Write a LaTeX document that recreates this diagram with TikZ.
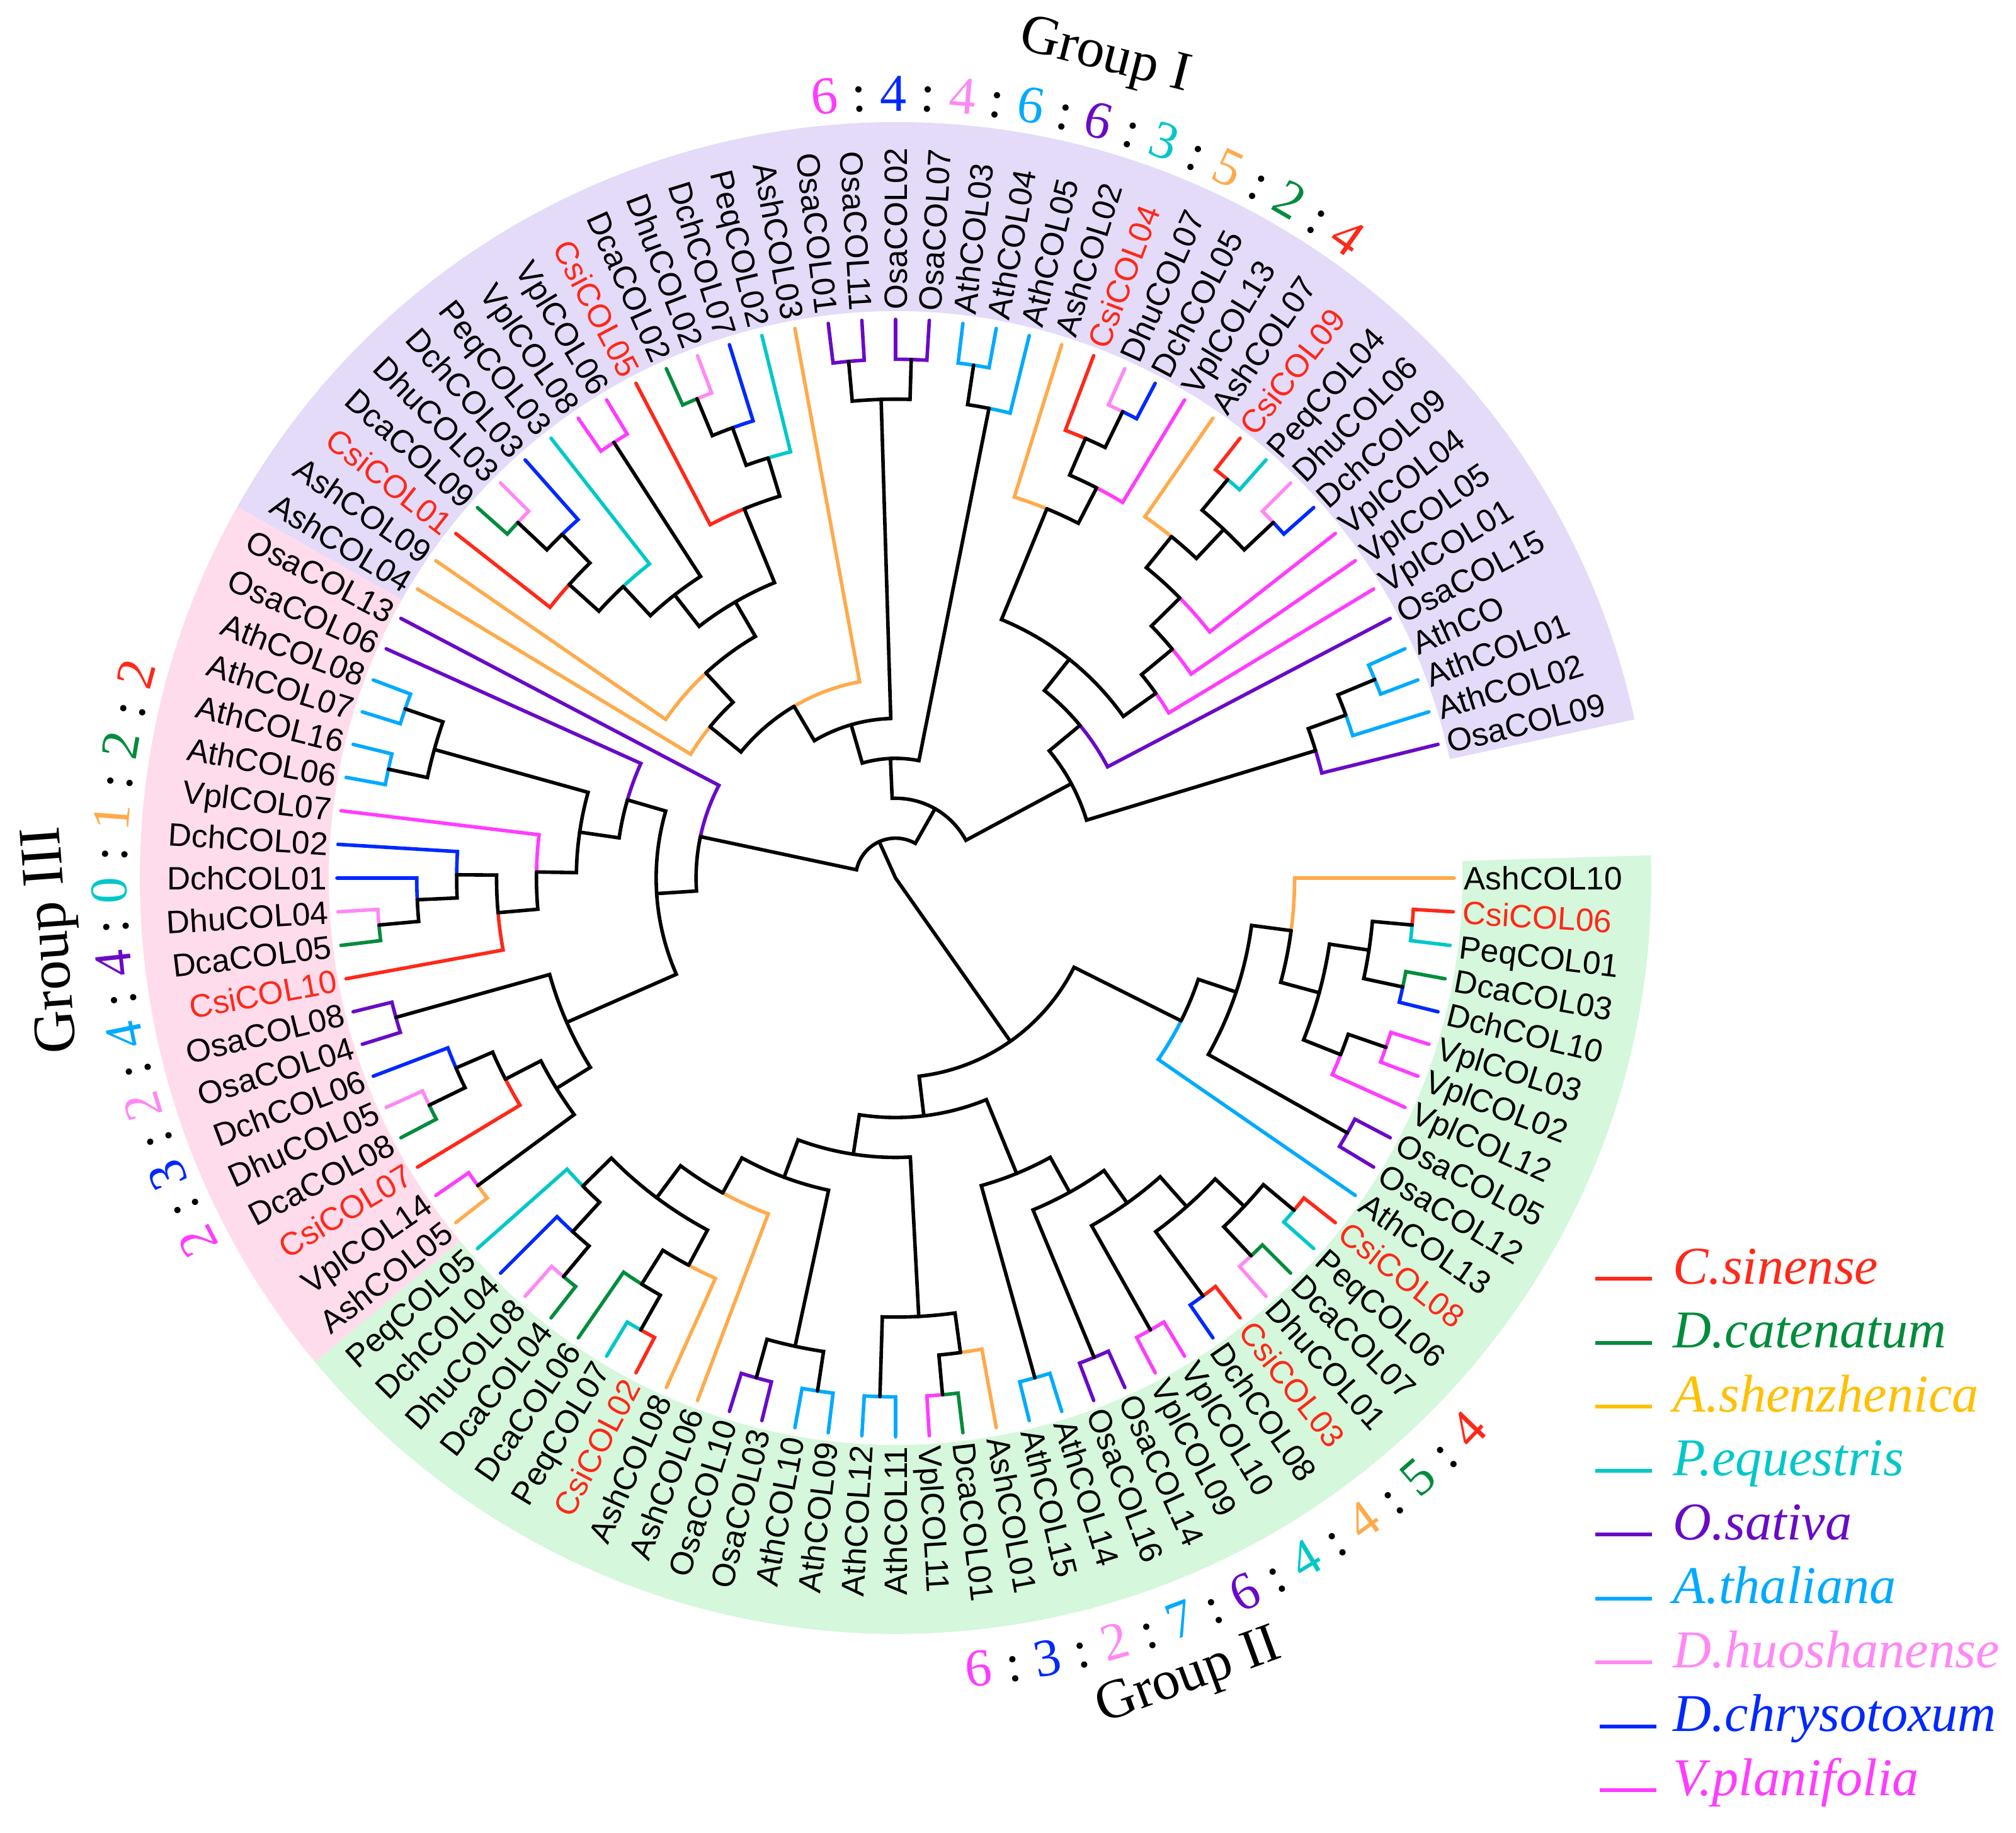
\documentclass[tikz,border=0pt]{standalone}
\usepackage{fontspec}
\setmainfont{Liberation Serif}
\newfontfamily\lsans{Liberation Sans}
\definecolor{csi}{HTML}{FF2819}
\definecolor{dca}{HTML}{008C3C}
\definecolor{ash}{HTML}{FFAA4B}
\definecolor{ashleg}{HTML}{FFC000}
\definecolor{peq}{HTML}{00C8C8}
\definecolor{osa}{HTML}{690AC8}
\definecolor{ath}{HTML}{00AAFF}
\definecolor{dhu}{HTML}{FF88F5}
\definecolor{dch}{HTML}{0028FF}
\definecolor{vpl}{HTML}{FF3CFF}
\definecolor{bandI}{HTML}{E3DBF8}
\definecolor{bandII}{HTML}{D5F7DC}
\definecolor{bandIII}{HTML}{FFDCEB}
\tikzset{
  br/.style={line width=0.056cm, line cap=round, line join=miter},
  lbl/.style={font=\lsans\fontsize{14.6pt}{16pt}\selectfont, inner sep=0pt, text height=10.45pt, text depth=0pt},
  cnt/.style={font=\fontsize{24pt}{28pt}\selectfont, inner sep=0pt},
  grp/.style={font=\fontsize{25pt}{30pt}\selectfont, inner sep=0pt},
  leg/.style={font=\itshape\fontsize{24pt}{28pt}\selectfont, inner sep=0pt, anchor=mid west},
  legline/.style={line width=0.06cm}
}
\def\leafr{8.87}
\def\lvl{0.63357}
\def\dang{3.461538}
\newcommand\lf[3]{%
  \pgfmathsetmacro\la{-#1*\dang}%
  \expandafter\xdef\csname ta@#1\endcsname{\la}%
  \expandafter\xdef\csname tr@#1\endcsname{\leafr}%
  \expandafter\xdef\csname tc@#1\endcsname{#3}%
  \def\lfcol{black}\def\tmpsp{#3}\def\tmpcsi{csi}\ifx\tmpsp\tmpcsi\def\lfcol{csi}\fi
  \ifnum#1<26 \node[lbl,text=\lfcol,anchor=west,rotate=\la] (lab#1) at (\la:9.02) {#2};%
  \else\ifnum#1>77 \node[lbl,text=\lfcol,anchor=west,rotate=\la] (lab#1) at (\la:9.02) {#2};%
  \else\pgfmathsetmacro\lb{\la+180}\node[lbl,text=\lfcol,anchor=east,rotate=\lb] (lab#1) at (\la:9.02) {#2};%
  \fi\fi}
\newcommand\edg[2]{%
  \edef\xca{\csname ta@#1\endcsname}\edef\xcr{\csname tr@#1\endcsname}\edef\xcc{\csname tc@#1\endcsname}%
  \edef\xpa{\csname ta@#2\endcsname}\edef\xpr{\csname tr@#2\endcsname}%
  \draw[br,draw=\xcc] (\xca:\xcr cm) -- (\xca:\xpr cm) arc[start angle=\xca, end angle=\xpa, radius=\xpr cm];}
\newcommand\nd[4]{%
  \pgfmathsetmacro\na{(\csname ta@#3\endcsname+\csname ta@#4\endcsname)/2}%
  \pgfmathsetmacro\nr{#2*\lvl}%
  \expandafter\xdef\csname ta@#1\endcsname{\na}%
  \expandafter\xdef\csname tr@#1\endcsname{\nr}%
  \expandafter\xdef\csname tc@#1\endcsname{black}%
  \edg{#3}{#1}\edg{#4}{#1}}
\newcommand\band[3]{%
  \fill[#1] (#2:9.0) arc[start angle=#2, end angle=#3, radius=9.0cm] -- (#3:12.0) arc[start angle=#3, end angle=#2, radius=12.0cm] -- cycle;}
\begin{document}
\begin{tikzpicture}
\useasboundingbox (-14.22,-15.16) rectangle (17.79,13.94);
\band{bandI}{12.115}{150.577}
\band{bandIII}{150.577}{219.808}
\band{bandII}{219.808}{361.731}
% leaves
\lf{0}{AshCOL10}{ash}\lf{1}{CsiCOL06}{csi}\lf{2}{PeqCOL01}{peq}\lf{3}{DcaCOL03}{dca}
\lf{4}{DchCOL10}{dch}\lf{5}{VplCOL03}{vpl}\lf{6}{VplCOL02}{vpl}\lf{7}{VplCOL12}{vpl}
\lf{8}{OsaCOL05}{osa}\lf{9}{OsaCOL12}{osa}\lf{10}{AthCOL13}{ath}\lf{11}{CsiCOL08}{csi}
\lf{12}{PeqCOL06}{peq}\lf{13}{DcaCOL07}{dca}\lf{14}{DhuCOL01}{dhu}\lf{15}{CsiCOL03}{csi}
\lf{16}{DchCOL08}{dch}\lf{17}{VplCOL10}{vpl}\lf{18}{VplCOL09}{vpl}\lf{19}{OsaCOL14}{osa}
\lf{20}{OsaCOL16}{osa}\lf{21}{AthCOL14}{ath}\lf{22}{AthCOL15}{ath}\lf{23}{AshCOL01}{ash}
\lf{24}{DcaCOL01}{dca}\lf{25}{VplCOL11}{vpl}\lf{26}{AthCOL11}{ath}\lf{27}{AthCOL12}{ath}
\lf{28}{AthCOL09}{ath}\lf{29}{AthCOL10}{ath}\lf{30}{OsaCOL03}{osa}\lf{31}{OsaCOL10}{osa}
\lf{32}{AshCOL06}{ash}\lf{33}{AshCOL08}{ash}\lf{34}{CsiCOL02}{csi}\lf{35}{PeqCOL07}{peq}
\lf{36}{DcaCOL06}{dca}\lf{37}{DcaCOL04}{dca}\lf{38}{DhuCOL08}{dhu}\lf{39}{DchCOL04}{dch}
\lf{40}{PeqCOL05}{peq}
\lf{41}{AshCOL05}{ash}\lf{42}{VplCOL14}{vpl}\lf{43}{CsiCOL07}{csi}\lf{44}{DcaCOL08}{dca}
\lf{45}{DhuCOL05}{dhu}\lf{46}{DchCOL06}{dch}\lf{47}{OsaCOL04}{osa}\lf{48}{OsaCOL08}{osa}
\lf{49}{CsiCOL10}{csi}\lf{50}{DcaCOL05}{dca}\lf{51}{DhuCOL04}{dhu}\lf{52}{DchCOL01}{dch}
\lf{53}{DchCOL02}{dch}\lf{54}{VplCOL07}{vpl}\lf{55}{AthCOL06}{ath}\lf{56}{AthCOL16}{ath}
\lf{57}{AthCOL07}{ath}\lf{58}{AthCOL08}{ath}\lf{59}{OsaCOL06}{osa}\lf{60}{OsaCOL13}{osa}
\lf{61}{AshCOL04}{ash}\lf{62}{AshCOL09}{ash}\lf{63}{CsiCOL01}{csi}\lf{64}{DcaCOL09}{dca}
\lf{65}{DhuCOL03}{dhu}\lf{66}{DchCOL03}{dch}\lf{67}{PeqCOL03}{peq}\lf{68}{VplCOL08}{vpl}
\lf{69}{VplCOL06}{vpl}\lf{70}{CsiCOL05}{csi}\lf{71}{DcaCOL02}{dca}\lf{72}{DhuCOL02}{dhu}
\lf{73}{DchCOL07}{dch}\lf{74}{PeqCOL02}{peq}\lf{75}{AshCOL03}{ash}\lf{76}{OsaCOL01}{osa}
\lf{77}{OsaCOL11}{osa}\lf{78}{OsaCOL02}{osa}\lf{79}{OsaCOL07}{osa}\lf{80}{AthCOL03}{ath}
\lf{81}{AthCOL04}{ath}\lf{82}{AthCOL05}{ath}\lf{83}{AshCOL02}{ash}\lf{84}{CsiCOL04}{csi}
\lf{85}{DhuCOL07}{dhu}\lf{86}{DchCOL05}{dch}\lf{87}{VplCOL13}{vpl}\lf{88}{AshCOL07}{ash}
\lf{89}{CsiCOL09}{csi}\lf{90}{PeqCOL04}{peq}\lf{91}{DhuCOL06}{dhu}\lf{92}{DchCOL09}{dch}
\lf{93}{VplCOL04}{vpl}\lf{94}{VplCOL05}{vpl}\lf{95}{VplCOL01}{vpl}\lf{96}{OsaCOL15}{osa}
\lf{97}{AthCO}{ath}\lf{98}{AthCOL01}{ath}\lf{99}{AthCOL02}{ath}\lf{100}{OsaCOL09}{osa}
% group II
\nd{X3}{13}{1}{2}\nd{X4}{13}{3}{4}\nd{X1}{12}{X3}{X4}
\nd{X5}{13}{5}{6}\nd{X2}{12}{X5}{7}\nd{X}{11}{X1}{X2}
\nd{T1}{10}{0}{X}\nd{T4}{13}{8}{9}\nd{T2}{9}{T1}{T4}\nd{T3}{8}{T2}{10}
\nd{Y12}{13}{11}{12}\nd{Y11}{13}{13}{14}\nd{Y10}{12}{Y12}{Y11}
\nd{Y9}{13}{15}{16}\nd{Y8}{11}{Y10}{Y9}\nd{Y7}{13}{17}{18}\nd{Y6}{10}{Y8}{Y7}
\nd{Y5}{13}{19}{20}\nd{Y4}{9}{Y6}{Y5}\nd{Y3}{13}{21}{22}\nd{Y2}{8}{Y4}{Y3}
\nd{Y17}{13}{24}{25}\nd{Y16}{12}{23}{Y17}\nd{Y15}{13}{26}{27}\nd{Y14}{11}{Y16}{Y15}
\nd{Y21}{13}{28}{29}\nd{Y20}{13}{30}{31}\nd{Y19}{12}{Y21}{Y20}
\nd{Y26}{13}{34}{35}\nd{Y25}{12}{Y26}{36}\nd{Y24}{11}{33}{Y25}
\nd{Y28}{13}{37}{38}\nd{Y27}{12}{Y28}{39}\nd{Y23}{11}{Y27}{40}
\nd{Y22}{10}{Y24}{Y23}\nd{Y18}{9}{32}{Y22}\nd{Y13}{8}{Y19}{Y18}
\nd{Y1}{7}{Y14}{Y13}\nd{Y}{6}{Y2}{Y1}\nd{GII}{5}{T3}{Y}
% group III
\nd{G1}{13}{57}{58}\nd{G3}{13}{55}{56}\nd{G2}{12}{G3}{G1}
\nd{G9}{13}{50}{51}\nd{G8}{12}{G9}{52}\nd{G7}{11}{G8}{53}\nd{G6}{10}{49}{G7}
\nd{G5}{9}{G6}{54}\nd{G4}{8}{G5}{G2}\nd{G10}{7}{G4}{59}
\nd{G13}{13}{47}{48}\nd{G15}{13}{44}{45}\nd{G16}{12}{G15}{46}\nd{G17}{11}{43}{G16}
\nd{G18}{13}{41}{42}\nd{G14}{10}{G18}{G17}\nd{G12}{9}{G14}{G13}
\nd{G11}{6}{G12}{G10}\nd{B}{5}{G11}{60}
% group I
\nd{N1}{13}{64}{65}\nd{N2}{12}{N1}{66}\nd{N3}{11}{63}{N2}\nd{N4}{10}{N3}{67}
\nd{V1}{13}{68}{69}\nd{N5}{9}{N4}{V1}
\nd{M1}{13}{71}{72}\nd{M2}{12}{M1}{73}\nd{M3}{11}{M2}{74}\nd{M4}{10}{70}{M3}
\nd{M5}{8}{N5}{M4}\nd{L1}{7}{62}{M5}\nd{X0}{6}{61}{L1}\nd{H}{5}{X0}{75}
\nd{P1}{13}{76}{77}\nd{P2}{13}{78}{79}\nd{P3}{12}{P1}{P2}\nd{E}{4}{H}{P3}
\nd{Q1}{13}{80}{81}\nd{Q2}{12}{Q1}{82}\nd{D}{3}{E}{Q2}
\nd{K1}{13}{85}{86}\nd{K2}{12}{84}{K1}\nd{K3}{11}{K2}{87}\nd{K4}{10}{83}{K3}
\nd{J1}{13}{89}{90}\nd{J2}{13}{91}{92}\nd{J3}{12}{J1}{J2}\nd{J4}{11}{88}{J3}
\nd{J5}{10}{J4}{93}\nd{J6}{9}{J5}{94}\nd{J7}{8}{J6}{95}\nd{J8}{7}{K4}{J7}\nd{J9}{6}{J8}{96}
\nd{I1}{13}{97}{98}\nd{I2}{12}{I1}{99}\nd{I3}{11}{I2}{100}\nd{F}{5}{J9}{I3}
\nd{C}{2}{D}{F}\nd{A}{1}{B}{C}
% root
\edef\rAa{\csname ta@A\endcsname}\edef\rAr{\csname tr@A\endcsname}
\edef\rGa{\csname ta@GII\endcsname}\edef\rGr{\csname tr@GII\endcsname}
\coordinate (root) at (0,0);
\draw[br] (\rAa:\rAr cm) -- (root) -- (\rGa:\rGr cm);
% group counts
\foreach \ch/\co [count=\i from 0] in {6/vpl,:/black,4/dch,:/black,4/dhu,:/black,6/ath,:/black,6/osa,:/black,3/peq,:/black,5/ash,:/black,2/dca,:/black,4/csi}{%
  \pgfmathsetmacro\ang{95.2-2.525*\i}\pgfmathsetmacro\rot{\ang-90}%
  \node[cnt,text=\co,rotate=\rot,anchor=base] (gI\i) at (\ang:12.18) {\ch};}
\foreach \ch/\co [count=\i from 0] in {6/vpl,:/black,3/dch,:/black,2/dhu,:/black,7/ath,:/black,6/osa,:/black,4/peq,:/black,4/ash,:/black,5/dca,:/black,4/csi}{%
  \pgfmathsetmacro\ang{-84.0+2.506*\i}\pgfmathsetmacro\rot{\ang+90}%
  \node[cnt,text=\co,rotate=\rot,anchor=base] (gII\i) at (\ang:12.89) {\ch};}
\foreach \ch/\co [count=\i from 0] in {2/vpl,:/black,3/dch,:/black,2/dhu,:/black,4/ath,:/black,4/osa,:/black,0/peq,:/black,1/ash,:/black,2/dca,:/black,2/csi}{%
  \pgfmathsetmacro\ang{207.5-2.66*\i}\pgfmathsetmacro\rot{\ang-90}%
  \node[cnt,text=\co,rotate=\rot,anchor=base] (gIII\i) at (\ang:12.21) {\ch};}
% group titles
\node[grp,rotate=-14.3] (tI) at (75.7:13.44) {Group I};
\node[grp,rotate=20.15] (tII) at (-69.85:13.53) {Group II};
\node[grp,rotate=94.2,font=\fontsize{27pt}{32pt}\selectfont] (tIII) at (184.2:13.40) {Group III};
% legend
\foreach \nm/\co/\xs [count=\i from 0] in {C.sinense/csi/0,D.catenatum/dca/0,A.shenzhenica/ashleg/0,P.equestris/peq/0,O.sativa/osa/0,A.thaliana/ath/0,D.huoshanense/dhu/0,D.chrysotoxum/dch/0.07,V.planifolia/vpl/0.07}{%
  \pgfmathsetmacro\yy{-6.36-1.015*\i}%
  \coordinate (la\i) at (11.11+\xs,\yy);
  \coordinate (lb\i) at (12.01+\xs,\yy);
  \draw[legline,draw=\co] (la\i) -- (lb\i);
  \node[leg,text=\co] (lt\i) at (12.34,\yy) {\nm};}
\end{tikzpicture}
\end{document}
